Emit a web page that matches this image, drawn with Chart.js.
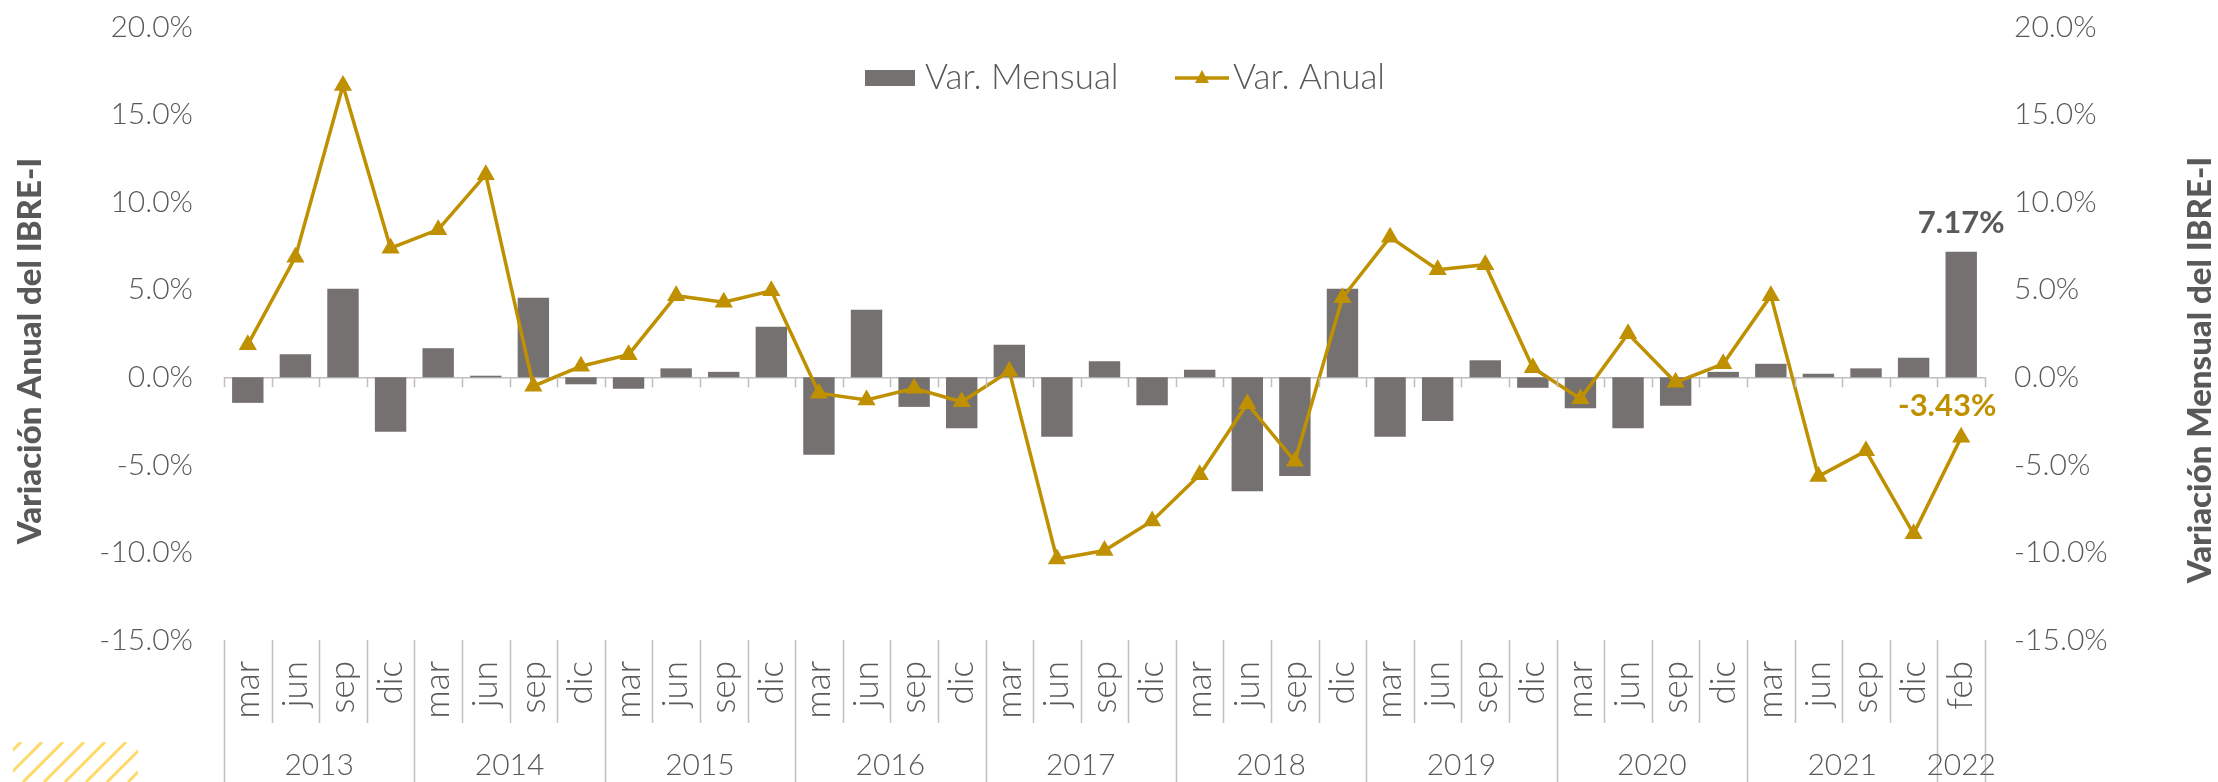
<!DOCTYPE html>
<html>
<head>
<meta charset="utf-8">
<script src="https://cdn.jsdelivr.net/npm/chart.js@4.4.1/dist/chart.umd.min.js"></script>
<style>
  html, body { margin: 0; padding: 0; background: #fff; }
  #wrap { width: 2218px; height: 782px; }
</style>
</head>
<body>
<div id="wrap"><canvas id="grafico" width="2218" height="782"></canvas></div>
<script>
const meses = ['mar','jun','sep','dic','mar','jun','sep','dic','mar','jun','sep','dic',
  'mar','jun','sep','dic','mar','jun','sep','dic','mar','jun','sep','dic',
  'mar','jun','sep','dic','mar','jun','sep','dic','mar','jun','sep','dic','feb'];
const anios = ['2013','2014','2015','2016','2017','2018','2019','2020','2021','2022'];
const anioSize = [4, 4, 4, 4, 4, 4, 4, 4, 4, 1];

const varMensual = [-1.46, 1.31, 5.06, -3.11, 1.66, 0.09, 4.54, -0.40, -0.66, 0.51, 0.31, 2.89,
  -4.43, 3.86, -1.69, -2.91, 1.86, -3.40, 0.91, -1.60, 0.43, -6.51, -5.63, 5.06,
  -3.40, -2.49, 0.97, -0.60, -1.77, -2.91, -1.63, 0.31, 0.77, 0.20, 0.51, 1.11, 7.17];
const varAnual = [1.86, 6.86, 16.66, 7.37, 8.43, 11.57, -0.51, 0.63, 1.29, 4.66, 4.29, 4.94,
  -0.91, -1.29, -0.63, -1.40, 0.34, -10.37, -9.89, -8.20, -5.57, -1.51, -4.80, 4.54,
  8.00, 6.14, 6.43, 0.54, -1.23, 2.49, -0.29, 0.77, 4.66, -5.66, -4.20, -8.94, -3.43];
const yTicks = [-15, -10, -5, 0, 5, 10, 15, 20];

const GRIS = '#767171';
const ORO = '#BF9000';
const TEXTO = '#595959';
const LINEA = '#BFBFBF';
const FUENTE = 'Lato, "Open Sans", sans-serif';

// extra drawing: grouped year axis, separators, legend, titles, value labels
const extras = {
  id: 'extras',
  afterDraw(chart) {
    const ctx = chart.ctx;
    const y = chart.scales.y;
    const area = chart.chartArea;
    const step = (area.right - area.left) / meses.length;
    const y0 = y.getPixelForValue(0);

    ctx.save();
    ctx.strokeStyle = LINEA;
    ctx.lineWidth = 1.5;
    // small ticks under zero line + separators in label area
    const limites = [0];
    let acc = 0;
    anioSize.forEach(n => { acc += n; limites.push(acc); });
    for (let k = 0; k <= meses.length; k++) {
      const px = Math.round(area.left + k * step) + 0.5;
      ctx.beginPath();
      ctx.moveTo(px, y0);
      ctx.lineTo(px, y0 + 10);
      ctx.moveTo(px, area.bottom);
      ctx.lineTo(px, limites.includes(k) ? 782 : 723);
      ctx.stroke();
    }

    // year labels
    ctx.fillStyle = TEXTO;
    ctx.font = '300 30px ' + FUENTE;
    ctx.textAlign = 'center';
    ctx.textBaseline = 'middle';
    anios.forEach((a, i) => {
      const c = (limites[i] + limites[i + 1]) / 2;
      ctx.fillText(a, area.left + c * step, 765);
    });

    // legend
    ctx.font = '300 35px ' + FUENTE;
    ctx.fillStyle = GRIS;
    ctx.fillRect(865, 70, 50, 16);
    ctx.fillStyle = TEXTO;
    ctx.textAlign = 'left';
    ctx.fillText('Var. Mensual', 925, 78);
    ctx.strokeStyle = ORO;
    ctx.lineWidth = 3.5;
    ctx.beginPath();
    ctx.moveTo(1175, 78);
    ctx.lineTo(1229, 78);
    ctx.stroke();
    ctx.fillStyle = ORO;
    ctx.beginPath();
    ctx.moveTo(1202, 70);
    ctx.lineTo(1209, 83);
    ctx.lineTo(1195, 83);
    ctx.closePath();
    ctx.fill();
    ctx.fillStyle = TEXTO;
    ctx.fillText('Var. Anual', 1233, 78);

    // axis titles
    ctx.font = '900 33px ' + FUENTE;
    ctx.textAlign = 'center';
    ctx.save();
    ctx.translate(30, 351);
    ctx.rotate(-Math.PI / 2);
    ctx.fillText('Variación Anual del IBRE-I', 0, 0);
    ctx.restore();
    ctx.save();
    ctx.translate(2200, 370);
    ctx.rotate(-Math.PI / 2);
    ctx.fillText('Variación Mensual del IBRE-I', 0, 0);
    ctx.restore();

    // value labels on last points
    const n = meses.length - 1;
    const barra = chart.getDatasetMeta(0).data[n];
    const punto = chart.getDatasetMeta(1).data[n];
    ctx.font = 'bold 31px ' + FUENTE;
    ctx.textBaseline = 'alphabetic';
    ctx.fillStyle = TEXTO;
    ctx.fillText(varMensual[n].toFixed(2) + '%', barra.x, barra.y - 19);
    ctx.fillStyle = ORO;
    ctx.fillText(varAnual[n].toFixed(2) + '%', punto.x - 14, punto.y - 21);

    // decorative hatch bottom-left
    ctx.beginPath();
    ctx.rect(13, 742, 125, 40);
    ctx.clip();
    ctx.strokeStyle = '#FFD966';
    ctx.lineWidth = 3;
    for (let sx = -40; sx < 160; sx += 21) {
      ctx.beginPath();
      ctx.moveTo(sx, 782);
      ctx.lineTo(sx + 40, 742);
      ctx.stroke();
    }
    ctx.restore();
  }
};

// gap between labels and plot is made with an invisible tick mark, so it
// does not push the chart area down
const ejeY = (pos, ancho, gap) => ({
  type: 'linear',
  position: pos,
  min: -15,
  max: 20,
  afterBuildTicks: s => { s.ticks = yTicks.map(v => ({ value: v })); },
  afterFit: s => { s.width = ancho; },
  border: { display: false },
  grid: {
    display: pos === 'left',
    drawTicks: true,
    tickLength: gap,
    tickColor: 'transparent',
    lineWidth: 1.5,
    color: c => (c.tick && c.tick.value === 0 ? LINEA : 'transparent')
  },
  ticks: {
    padding: 0,
    color: TEXTO,
    font: { family: FUENTE, size: 30, weight: '300' },
    callback: v => v.toFixed(1) + '%'
  }
});

new Chart(document.getElementById('grafico'), {
  data: {
    labels: meses,
    datasets: [{
      type: 'bar',
      label: 'Var. Mensual',
      data: varMensual,
      yAxisID: 'y1',
      backgroundColor: GRIS,
      borderWidth: 0,
      barPercentage: 0.66,
      categoryPercentage: 1,
      order: 2
    }, {
      type: 'line',
      label: 'Var. Anual',
      data: varAnual,
      yAxisID: 'y',
      borderColor: ORO,
      backgroundColor: ORO,
      borderWidth: 3.5,
      pointStyle: 'triangle',
      pointRadius: 7,
      pointHoverRadius: 7,
      tension: 0,
      order: 1
    }]
  },
  options: {
    responsive: false,
    animation: false,
    devicePixelRatio: 1,
    layout: { padding: { top: 27, left: 0, right: 0, bottom: 0 } },
    plugins: {
      legend: { display: false },
      tooltip: { enabled: false }
    },
    scales: {
      x: {
        offset: true,
        afterFit: s => { s.height = 142; },
        border: { display: false },
        grid: { display: false, drawTicks: false },
        ticks: {
          autoSkip: false,
          minRotation: 90,
          maxRotation: 90,
          padding: 21,
          color: TEXTO,
          font: { family: FUENTE, size: 35, weight: '300' }
        }
      },
      y: ejeY('left', 224, 31),
      y1: ejeY('right', 233, 29)
    }
  },
  plugins: [extras]
});
</script>
</body>
</html>
